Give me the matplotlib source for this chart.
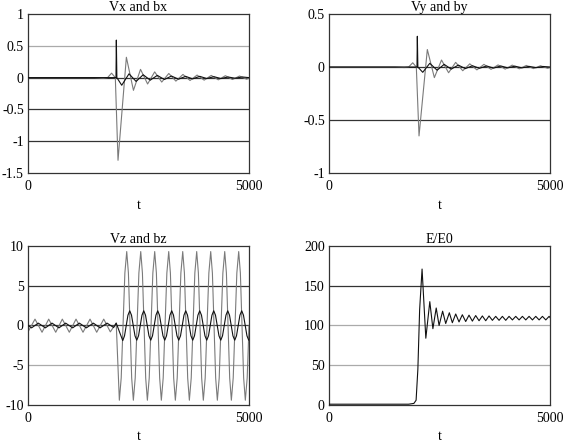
import matplotlib
matplotlib.use("Agg")
import matplotlib.pyplot as plt

plt.rcParams['font.family'] = ['Liberation Serif', 'DejaVu Serif']
plt.rcParams['axes.unicode_minus'] = False

# ---- data ----
# Vx and bx
t_vx = [0, 1500, 1700, 1800, 1890, 1975, 2036, 2225, 2385, 2545, 2705, 2865, 3025, 3185,
        3345, 3505, 3665, 3825, 3985, 4145, 4305, 4465, 4625, 4785, 4945, 5000]
vx = [0, 0, -0.01, 0.0, 0.07, 0.0, -1.30, 0.32, -0.20, 0.13, -0.10, 0.09, -0.07, 0.065,
      -0.055, 0.05, -0.045, 0.04, -0.04, 0.035, -0.035, 0.03, -0.03, 0.025, -0.025, -0.01]
t_bx = [0, 1950, 1990, 1998, 2010, 2120, 2285, 2445, 2605, 2765, 2925, 3085, 3245, 3405,
        3565, 3725, 3885, 4045, 4205, 4365, 4525, 4685, 4845, 5000]
bx = [0, 0, 0.0, 0.59, 0.0, -0.12, 0.06, -0.06, 0.045, -0.04, 0.035, -0.03, 0.025, -0.025,
      0.02, -0.02, 0.02, -0.015, 0.015, -0.015, 0.01, -0.01, 0.01, 0]

# Vy and by
t_vy = [0, 1500, 1700, 1800, 1894, 1975, 2036, 2224, 2383, 2545, 2705, 2865, 3025, 3185,
        3345, 3505, 3665, 3825, 3985, 4145, 4305, 4465, 4625, 4785, 4945, 5000]
vy = [0, 0, -0.005, 0.0, 0.04, 0.0, -0.65, 0.165, -0.10, 0.066, -0.054, 0.044, -0.035, 0.03,
      -0.027, 0.025, -0.022, 0.02, -0.02, 0.018, -0.017, 0.015, -0.015, 0.012, -0.012, -0.005]
t_by = [0, 1950, 1990, 1998, 2010, 2120, 2280, 2445, 2605, 2765, 2925, 3085, 3245, 3405,
        3565, 3725, 3885, 4045, 4205, 4365, 4525, 4685, 4845, 5000]
by = [0, 0, 0.0, 0.29, 0.0, -0.05, 0.035, -0.03, 0.025, -0.02, 0.018, -0.015, 0.012, -0.012,
      0.01, -0.01, 0.01, -0.008, 0.008, -0.008, 0.006, -0.006, 0.005, 0]

# Vz and bz
t_vz = [0, 158, 317, 468, 627, 776, 934, 1086, 1244, 1403, 1554, 1713, 1862, 1995,
        2066, 2108, 2191, 2233, 2271, 2345, 2383, 2425, 2508, 2550, 2588, 2662,
        2700, 2742, 2824, 2866, 2904, 2978, 3016, 3058, 3141, 3183, 3221, 3295,
        3333, 3375, 3458, 3500, 3538, 3612, 3650, 3692, 3774, 3816, 3854, 3928,
        3966, 4008, 4091, 4133, 4171, 4245, 4283, 4325, 4408, 4450, 4488, 4562,
        4600, 4642, 4724, 4766, 4804, 4878, 4916, 4958, 5000]
vz = [-0.8, 0.8, -0.85, 0.8, -0.85, 0.8, -0.85, 0.8, -0.85, 0.8, -0.85, 0.8, -0.8, 0.3,
      -9.4, -6.6, 6.6, 9.3, 6.6, -6.6, -9.4, -6.6, 6.6, 9.3, 6.6, -6.6,
      -9.4, -6.6, 6.6, 9.3, 6.6, -6.6, -9.4, -6.6, 6.6, 9.3, 6.6, -6.6,
      -9.4, -6.6, 6.6, 9.3, 6.6, -6.6, -9.4, -6.6, 6.6, 9.3, 6.6, -6.6,
      -9.4, -6.6, 6.6, 9.3, 6.6, -6.6, -9.4, -6.6, 6.6, 9.3, 6.6, -6.6,
      -9.4, -6.6, 6.6, 9.3, 6.6, -6.6, -9.4, -6.6, 0.0]
t_bz = [0, 80, 233, 392, 543, 700, 851, 1010, 1161, 1320, 1478, 1630, 1788, 1937, 1995,
        2143, 2183, 2261, 2301, 2341, 2420, 2460, 2500, 2578, 2618, 2658, 2736,
        2776, 2816, 2894, 2934, 2974, 3053, 3093, 3133, 3211, 3251, 3291, 3370,
        3410, 3450, 3528, 3568, 3608, 3686, 3726, 3766, 3844, 3884, 3924, 4003,
        4043, 4083, 4161, 4201, 4241, 4320, 4360, 4400, 4478, 4518, 4558, 4636,
        4676, 4716, 4794, 4834, 4874, 4953, 4993, 5000]
bz = [0, -0.3, 0.3, -0.3, 0.3, -0.3, 0.3, -0.3, 0.3, -0.3, 0.3, -0.3, 0.3, -0.25, 0.3,
      -1.9, -1.3, 1.3, 1.85, 1.3, -1.3, -1.85, -1.3, 1.3, 1.85, 1.3, -1.3,
      -1.85, -1.3, 1.3, 1.85, 1.3, -1.3, -1.85, -1.3, 1.3, 1.85, 1.3, -1.3,
      -1.85, -1.3, 1.3, 1.85, 1.3, -1.3, -1.85, -1.3, 1.3, 1.85, 1.3, -1.3,
      -1.85, -1.3, 1.3, 1.85, 1.3, -1.3, -1.85, -1.3, 1.3, 1.85, 1.3, -1.3,
      -1.85, -1.3, 1.3, 1.85, 1.3, -1.3, -1.85, -1.84]

# E/E0
t_e = [0, 1800, 1920, 1970, 2010, 2050, 2105, 2190, 2280, 2350, 2425, 2490, 2570, 2640,
       2722, 2790, 2866, 2941, 3016, 3092, 3167, 3243, 3318, 3394, 3469, 3545, 3620, 3696,
       3771, 3847, 3922, 3998, 4073, 4149, 4224, 4300, 4375, 4451, 4526, 4602, 4677, 4753,
       4828, 4904, 4979, 5000]
e = [1, 1, 2, 6, 45, 120, 171, 84, 130, 96, 122, 100, 118, 102.5,
     116, 103.5, 114.5, 104.5, 113.5, 105, 113, 105.5, 112.5, 106, 112, 106, 112, 106.5,
     111.5, 106.5, 111.5, 106.5, 111.5, 107, 111.5, 107, 111.5, 107, 111.5, 107, 111.5, 107,
     111.5, 107, 111.5, 110]

x_ticks = [0, 5000]


def setup(ax, title, yticks, grid_cols):
    ax.set_xlim(0, 5000)
    ax.set_ylim(yticks[0], yticks[-1])
    ax.set_xticks(x_ticks)
    ax.set_xticklabels(['0', '5000'])
    ax.set_yticks(yticks)
    ax.set_yticklabels(['%g' % v for v in yticks])
    ax.tick_params(length=0, labelsize=10, pad=3)
    ax.tick_params(axis='x', pad=5)
    for v, c in zip(yticks[1:-1], grid_cols):
        ax.axhline(v, color=c, lw=0.9, zorder=1)
    for s in ax.spines.values():
        s.set_color('#333333')
        s.set_linewidth(0.9)
    ax.set_title(title, fontsize=10, pad=2)
    ax.set_xlabel('t', fontsize=10, labelpad=4)


fig = plt.figure(figsize=(5.66, 4.45), dpi=100)
ax1 = fig.add_axes([0.0495, 0.6112, 0.3905, 0.3573])
ax2 = fig.add_axes([0.5813, 0.6112, 0.3905, 0.3573])
ax3 = fig.add_axes([0.0495, 0.0899, 0.3905, 0.3573])
ax4 = fig.add_axes([0.5813, 0.0899, 0.3905, 0.3573])

gray = '#7a7a7a'
dark = '#111111'

ax1.plot(t_vx, vx, color=gray, lw=0.8, zorder=2)
ax1.plot(t_bx, bx, color=dark, lw=0.8, zorder=3)
setup(ax1, 'Vx and bx', [-1.5, -1, -0.5, 0, 0.5, 1], ['#333333', '#333333', '#333333', '#aaaaaa'])

ax2.plot(t_vy, vy, color=gray, lw=0.8, zorder=2)
ax2.plot(t_by, by, color=dark, lw=0.8, zorder=3)
setup(ax2, 'Vy and by', [-1, -0.5, 0, 0.5], ['#333333', '#333333'])

ax3.plot(t_vz, vz, color=gray, lw=0.8, zorder=2)
ax3.plot(t_bz, bz, color=dark, lw=0.8, zorder=3)
setup(ax3, 'Vz and bz', [-10, -5, 0, 5, 10], ['#aaaaaa', '#444444', '#333333'])

ax4.plot(t_e, e, color=dark, lw=0.8, zorder=3)
setup(ax4, 'E/E0', [0, 50, 100, 150, 200], ['#aaaaaa', '#aaaaaa', '#333333'])

fig.savefig('out.png', dpi=100)
